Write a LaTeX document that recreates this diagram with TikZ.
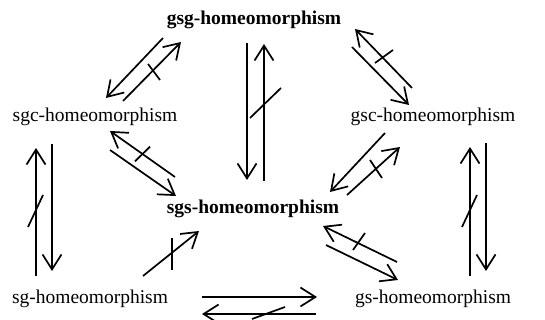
\documentclass[tikz,border=0pt]{standalone}
\usepackage{fontspec}
\setmainfont{Liberation Serif}
\usetikzlibrary{arrows.meta}
\begin{document}
\begin{tikzpicture}[x=1pt,y=-1pt,
  lbl/.style={anchor=base, inner sep=0pt, font=\fontsize{19.5pt}{23pt}\selectfont},
  boldlbl/.style={lbl, font=\fontsize{19.5pt}{23pt}\selectfont\bfseries},
  arr/.style={line width=1.7pt, -{Straight Barb[length=15pt,width=19pt,line width=1.7pt]}},
  slash/.style={line width=1.7pt}]
\useasboundingbox (0,0) rectangle (545,320);

% the six notions
\node[boldlbl] (gsg) at (254,25)  {gsg-homeomorphism};
\node[lbl]     (sgc) at (95,122)  {sgc-homeomorphism};
\node[lbl]     (gsc) at (433,122) {gsc-homeomorphism};
\node[boldlbl] (sgs) at (253,213) {sgs-homeomorphism};
\node[lbl]     (sg)  at (90,303)  {sg-homeomorphism};
\node[lbl]     (gs)  at (433,303) {gs-homeomorphism};

% end points of the parallel implication arrows
\coordinate (a1s) at (163,38);  \coordinate (a1e) at (106,98);
\coordinate (a2s) at (123,101); \coordinate (a2e) at (181,42);
\coordinate (m1s) at (247,43);  \coordinate (m1e) at (247,180);
\coordinate (m2s) at (264,181); \coordinate (m2e) at (264,44);
\coordinate (e1s) at (412,88);  \coordinate (e1e) at (355,29);
\coordinate (e2s) at (352,47);  \coordinate (e2e) at (409,105);
\coordinate (l1s) at (36,276);  \coordinate (l1e) at (36,148);
\coordinate (l2s) at (52,144);  \coordinate (l2e) at (52,271);
\coordinate (r1s) at (470,276); \coordinate (r1e) at (470,147);
\coordinate (r2s) at (486,143); \coordinate (r2e) at (486,271);
\coordinate (b1s) at (175,177); \coordinate (b1e) at (110,131);
\coordinate (b2s) at (110,150); \coordinate (b2e) at (176,196);
\coordinate (c1s) at (385,133); \coordinate (c1e) at (330,192);
\coordinate (c2s) at (347,195); \coordinate (c2e) at (400,147);
\coordinate (d1s) at (397,262); \coordinate (d1e) at (323,226);
\coordinate (d2s) at (326,245); \coordinate (d2e) at (398,280);
\coordinate (fs)  at (143,276); \coordinate (fe)  at (199,231);
\coordinate (g1s) at (202,297); \coordinate (g1e) at (317,297);
\coordinate (g2s) at (316,314); \coordinate (g2e) at (202,314);

% arrows
\draw[arr] (a1s) -- (a1e);
\draw[arr] (a2s) -- (a2e);
\draw[arr] (m1s) -- (m1e);
\draw[arr] (m2s) -- (m2e);
\draw[arr] (e1s) -- (e1e);
\draw[arr] (e2s) -- (e2e);
\draw[arr] (l1s) -- (l1e);
\draw[arr] (l2s) -- (l2e);
\draw[arr] (r1s) -- (r1e);
\draw[arr] (r2s) -- (r2e);
\draw[arr] (b1s) -- (b1e);
\draw[arr] (b2s) -- (b2e);
\draw[arr] (c1s) -- (c1e);
\draw[arr] (c2s) -- (c2e);
\draw[arr] (d1s) -- (d1e);
\draw[arr] (d2s) -- (d2e);
\draw[arr] (fs)  -- (fe);
\draw[arr] (g1s) -- (g1e);
\draw[arr] (g2s) -- (g2e);

% strokes through the arrows that fail
\draw[slash] (148,64)   -- (160,80);
\draw[slash] (250,118)  -- (281,88);
\draw[slash] (375,63)   -- (393,50);
\draw[slash] (28,227)   -- (43,195);
\draw[slash] (462,227)  -- (477,195);
\draw[slash] (150,146.7) -- (135,161.3);
\draw[slash] (370,160)  -- (382,178);
\draw[slash] (353,250)  -- (365,233);
\draw[slash] (172,238)  -- (172,270);
\draw[slash] (252,319)  -- (285,307);
\end{tikzpicture}
\end{document}
